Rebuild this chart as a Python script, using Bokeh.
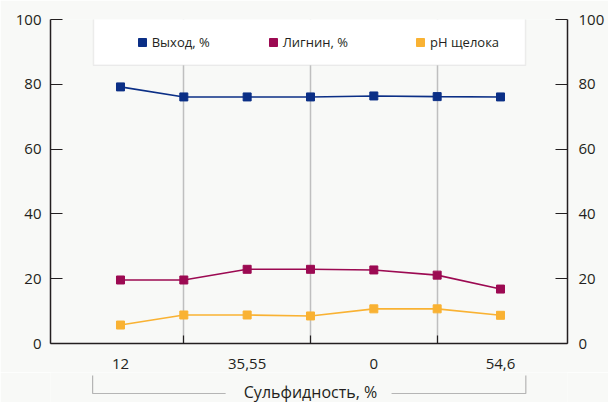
from bokeh.plotting import figure
from bokeh.models import (Range1d, FixedTicker, LinearAxis, Legend, LegendItem,
                          BoxAnnotation)
from bokeh.layouts import column
from bokeh.core.properties import value
from bokeh.embed import file_html
from bokeh.resources import INLINE

# --- data -------------------------------------------------------------
positions = [0, 1, 2, 3, 4, 5, 6]
tick_labels = {0: "12", 2: "35,55", 4: "0", 6: "54,6"}
vykhod = [79.2, 76.1, 76.1, 76.1, 76.4, 76.2, 76.1]   # Выход, %
lignin = [19.6, 19.6, 22.9, 22.9, 22.7, 21.1, 16.8]   # Лигнин, %
ph_liquor = [5.7, 8.8, 8.8, 8.5, 10.7, 10.7, 8.7]     # pH щелока
series_names = ["Выход, %", "Лигнин, %", "pH щелока"]
y_ticks = [0, 20, 40, 60, 80, 100]
x_title = "Сульфидность, %"

# --- style ------------------------------------------------------------
BG = "#f8f9f7"
INK = "#231f20"
GRID = "#bfbfbf"
COLORS = ["#0b2f86", "#9c0a52", "#f9b233"]
FONT = "Open Sans"

p = figure(width=608, height=372, x_range=Range1d(-1.105, 7.058),
           y_range=Range1d(0, 100), output_backend="svg",
           toolbar_location=None, min_border_left=50, min_border_right=41,
           min_border_top=19, min_border_bottom=29,
           background_fill_color=BG, border_fill_color=BG,
           outline_line_color=None)

# bottom axis: labels on even positions, short inner ticks between them
xax = p.xaxis[0]
xax.ticker = FixedTicker(ticks=[0, 2, 4, 6], minor_ticks=[1, 3, 5])
xax.major_label_overrides = tick_labels
xax.major_tick_line_color = None
xax.minor_tick_in = 8
xax.minor_tick_out = 0
xax.minor_tick_line_color = INK
xax.minor_tick_line_width = 1.2
xax.axis_line_color = INK
xax.axis_line_width = 1.5
xax.major_label_standoff = 9
xax.major_label_text_font = FONT
xax.major_label_text_font_size = "15px"
xax.major_label_text_color = INK


def style_y(ax):
    ax.ticker = FixedTicker(ticks=y_ticks)
    ax.major_tick_in = 12
    ax.major_tick_out = 0
    ax.minor_tick_line_color = None
    ax.major_tick_line_color = INK
    ax.major_tick_line_width = 1.2
    ax.axis_line_color = INK
    ax.axis_line_width = 1.5
    ax.major_label_text_font = FONT
    ax.major_label_text_font_size = "15px"
    ax.major_label_text_color = INK


style_y(p.yaxis[0])
p.yaxis[0].major_label_standoff = 9
right_axis = LinearAxis()
style_y(right_axis)
right_axis.major_label_standoff = 11
p.add_layout(right_axis, "right")

p.xgrid.ticker = FixedTicker(ticks=[1, 3, 5])
p.xgrid.grid_line_color = GRID
p.xgrid.grid_line_width = 1.5
p.ygrid.visible = False

markers = []
for vals, col in zip([vykhod, lignin, ph_liquor], COLORS):
    p.line(positions, vals, line_color=col, line_width=1.6)
    r = p.scatter(positions, vals, marker="square", size=8,
                  fill_color=col, line_color=col)
    markers.append(r)

# legend frame
p.add_layout(BoxAnnotation(left=43, right=475, top=326.6, bottom=278.3,
                           left_units="screen", right_units="screen",
                           top_units="screen", bottom_units="screen",
                           fill_color="white", fill_alpha=1.0,
                           line_color="#c8c8c8", line_width=1.5))

legend_x = [81.7, 212.7, 360.0]
for name, r, lx in zip(series_names, markers, legend_x):
    lg = Legend(items=[LegendItem(label=name, renderers=[r])],
                location=(lx, 290.6), orientation="horizontal",
                padding=0, margin=0, spacing=0,
                border_line_color=None, background_fill_alpha=0,
                glyph_width=20, glyph_height=20, label_height=20,
                label_standoff=0, label_text_font=FONT,
                label_text_font_size="13px", label_text_color=INK)
    p.add_layout(lg)

# strip under the chart with the bracketed axis title
q = figure(width=608, height=30, x_range=p.x_range, y_range=Range1d(0, 30),
           output_backend="svg", toolbar_location=None,
           x_axis_location=None, y_axis_location=None,
           min_border_left=50, min_border_right=41, min_border_top=0,
           min_border_bottom=0, background_fill_color=BG,
           border_fill_color=BG, outline_line_color=None)
q.xgrid.visible = False
q.ygrid.visible = False
q.line([-0.44, -0.44, 1.66], [27, 9, 9], line_color="#b5b5b5", line_width=1.2)
q.line([4.28, 6.4, 6.4], [9, 9, 27], line_color="#b5b5b5", line_width=1.2)
q.text(x=[3.0], y=[11], text=[x_title], text_font=value(FONT),
       text_font_size="16px", text_color=INK, text_align="center",
       text_baseline="middle")

layout = column(p, q, spacing=0)
open("out.html", "w").write(file_html(layout, INLINE))
